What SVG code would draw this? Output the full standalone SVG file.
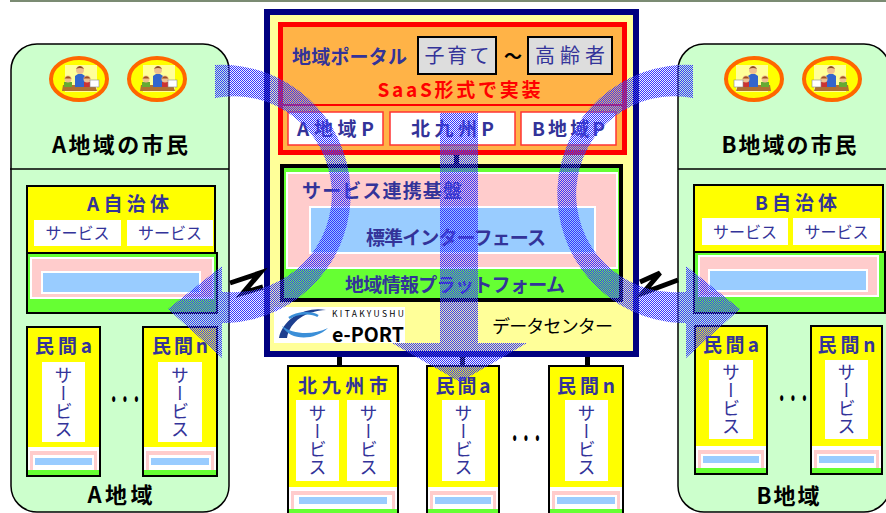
<svg xmlns="http://www.w3.org/2000/svg" width="886" height="513" viewBox="0 0 886 513">
<defs>
<style>
text{font-family:'Noto Sans CJK JP','Noto Sans',sans-serif}
.nv{fill:#333399;font-weight:bold}
.blk{fill:#000;font-weight:bold}
.dots{fill:#000;font-weight:900;font-size:21px}
.svc{fill:#333399;font-size:16px}
.vt{fill:#333399;font-size:18px;writing-mode:vertical-rl}
.ybox{fill:#ffff00}
.edge{fill:none;stroke:#000;stroke-width:2}
.wh{fill:#fff}
.pk{fill:#ffcccc;stroke:#fff;stroke-width:2}
.bl{fill:#99ccff;stroke:#fff;stroke-width:2}
.gr{fill:#66ff33}
.panel{fill:#ccffcc;stroke:#000;stroke-width:1.5}
.flow{fill:url(#dither)}
.bar{fill:#000}
.zz{fill:none;stroke:#000;stroke-width:5;stroke-linejoin:miter}
</style>
<pattern id="dither" width="2" height="2" patternUnits="userSpaceOnUse">
<rect width="2" height="2" fill="#9090ff" fill-opacity="0.12"/>
<rect width="1" height="1" fill="#3535ff"/>
<rect x="1" y="1" width="1" height="1" fill="#3535ff"/>
</pattern>
<g id="family">
<ellipse rx="28" ry="21" fill="#ffff00" stroke="#ff6600" stroke-width="4"/>
<rect x="-14" y="-14" width="32" height="27" fill="#ffff99"/>
<path d="M-16 6 L16 6 L18 12 L-17 12 Z" fill="#b07030"/>
<path d="M-4 8 L-4 -3 Q1 -8 6 -3 L6 8 Z" fill="#3366cc"/>
<circle cx="1" cy="-9" r="4" fill="#f0c090"/>
<path d="M-3 -10 Q1 -16 5 -10 Q1 -12 -3 -10 Z" fill="#8a4a20"/>
<rect x="-15" y="3" width="8" height="5" fill="#66aa33"/>
<circle cx="-11" cy="0" r="3.5" fill="#f0c090"/>
<path d="M-14.5 -0.5 Q-11 -5 -7.5 -0.5 Z" fill="#a05020"/>
<rect x="5" y="3" width="7" height="5" fill="#cc3333"/>
<circle cx="8" cy="0" r="3.5" fill="#f0c090"/>
<path d="M4.5 -0.5 Q8 -5 11.5 -0.5 Z" fill="#a05020"/>
<rect x="11" y="1" width="9" height="7" fill="#fff" stroke="#888" stroke-width="0.6"/>
</g>
</defs>

<rect x="0" y="0" width="886" height="513" fill="#fff"/>
<rect x="10" y="0" width="876" height="2" fill="#7b8b73"/>

<!-- region A panel -->
<g id="regionA">
<rect class="panel" x="11" y="44" width="218" height="468" rx="26"/>
<line x1="10" y1="169" x2="229" y2="169" stroke="#000" stroke-width="1.5"/>
<use href="#family" x="79" y="79"/>
<use href="#family" x="157" y="79"/>
<text class="blk" x="120" y="153" font-size="22" text-anchor="middle" textLength="136" lengthAdjust="spacing">A地域の市民</text>
<text class="blk" x="120" y="503" font-size="22" text-anchor="middle" textLength="65" lengthAdjust="spacing">A地域</text>
</g>

<!-- region B panel -->
<g id="regionB">
<rect class="panel" x="678" y="44" width="212" height="468" rx="26"/>
<line x1="678" y1="169" x2="886" y2="169" stroke="#000" stroke-width="1.5"/>
<use href="#family" transform="translate(754 79) scale(-1 1)"/>
<use href="#family" transform="translate(832 79) scale(-1 1)"/>
<text class="blk" x="789" y="153" font-size="22" text-anchor="middle" textLength="135" lengthAdjust="spacing">B地域の市民</text>
<text class="blk" x="788" y="504" font-size="22" text-anchor="middle" textLength="63" lengthAdjust="spacing">B地域</text>
</g>

<!-- municipality A -->
<g id="muniA">
<rect class="ybox" x="27" y="186" width="188" height="67"/>
<text class="nv" x="128" y="211" font-size="19" text-anchor="middle" textLength="82" lengthAdjust="spacing">A自治体</text>
<rect class="wh" x="34" y="220" width="87" height="26"/>
<rect class="wh" x="127" y="220" width="86" height="26"/>
<text class="svc" x="77.5" y="239" text-anchor="middle">サービス</text>
<text class="svc" x="170" y="239" text-anchor="middle">サービス</text>
<rect class="edge" x="27" y="186" width="188" height="67"/>
<rect class="gr" x="27" y="253" width="190" height="60"/>
<rect class="pk" x="31" y="258" width="182" height="40"/>
<rect class="bl" x="42" y="272" width="158" height="21"/>
<rect class="edge" x="27" y="253" width="190" height="60"/>
</g>

<!-- municipality B -->
<g id="muniB">
<rect class="ybox" x="694" y="185" width="189" height="67"/>
<text class="nv" x="796" y="210" font-size="19" text-anchor="middle" textLength="82" lengthAdjust="spacing">B自治体</text>
<rect class="wh" x="702" y="218" width="86" height="27"/>
<rect class="wh" x="793" y="218" width="87" height="27"/>
<text class="svc" x="745" y="238" text-anchor="middle">サービス</text>
<text class="svc" x="836.5" y="238" text-anchor="middle">サービス</text>
<rect class="edge" x="694" y="185" width="189" height="67"/>
<rect class="gr" x="694" y="252" width="191" height="61"/>
<rect class="pk" x="699" y="256" width="179" height="40"/>
<rect class="bl" x="709" y="270" width="158" height="21"/>
<rect class="edge" x="694" y="252" width="191" height="61"/>
</g>

<!-- private services, region A -->
<g id="privA_a">
<rect class="ybox" x="27" y="327" width="73" height="120"/>
<rect class="wh" x="28" y="447" width="71" height="23"/>
<rect fill="#ffcccc" x="30" y="451" width="67" height="19"/>
<rect class="wh" x="33" y="455" width="61" height="15"/>
<rect fill="#99ccff" x="35" y="458" width="57" height="7"/>
<rect class="gr" x="28" y="470" width="71" height="6"/>
<rect class="wh" x="42" y="362" width="43" height="80"/>
<text class="vt" x="63.5" y="402" text-anchor="middle">サービス</text>
<text class="nv" x="63.5" y="353" font-size="19" text-anchor="middle" textLength="57" lengthAdjust="spacing">民間a</text>
<rect class="edge" x="27" y="327" width="73" height="149"/>
</g>
<g id="privA_n">
<rect class="ybox" x="143" y="327" width="74" height="120"/>
<rect class="wh" x="144" y="447" width="72" height="23"/>
<rect fill="#ffcccc" x="146" y="451" width="68" height="19"/>
<rect class="wh" x="149" y="455" width="62" height="15"/>
<rect fill="#99ccff" x="151" y="458" width="58" height="7"/>
<rect class="gr" x="144" y="470" width="72" height="6"/>
<rect class="wh" x="158" y="362" width="44" height="80"/>
<text class="vt" x="180" y="402" text-anchor="middle">サービス</text>
<text class="nv" x="180" y="353" font-size="19" text-anchor="middle" textLength="56" lengthAdjust="spacing">民間n</text>
<rect class="edge" x="143" y="327" width="74" height="149"/>
</g>
<text class="dots" x="125" y="407" text-anchor="middle" textLength="34" lengthAdjust="spacingAndGlyphs">・・・</text>

<!-- private services, region B -->
<g id="privB_a">
<rect class="ybox" x="695" y="326" width="72" height="120"/>
<rect class="wh" x="696" y="446" width="70" height="22"/>
<rect fill="#ffcccc" x="698" y="450" width="66" height="18"/>
<rect class="wh" x="701" y="454" width="60" height="14"/>
<rect fill="#99ccff" x="703" y="456" width="56" height="7"/>
<rect class="gr" x="696" y="468" width="70" height="6"/>
<rect class="wh" x="709" y="360" width="44" height="79"/>
<text class="vt" x="731" y="399.5" text-anchor="middle">サービス</text>
<text class="nv" x="731" y="352" font-size="19" text-anchor="middle" textLength="56" lengthAdjust="spacing">民間a</text>
<rect class="edge" x="695" y="326" width="72" height="148"/>
</g>
<g id="privB_n">
<rect class="ybox" x="811" y="326" width="71" height="120"/>
<rect class="wh" x="812" y="446" width="69" height="22"/>
<rect fill="#ffcccc" x="814" y="450" width="65" height="18"/>
<rect class="wh" x="817" y="454" width="59" height="14"/>
<rect fill="#99ccff" x="819" y="456" width="55" height="7"/>
<rect class="gr" x="812" y="468" width="69" height="6"/>
<rect class="wh" x="825" y="360" width="43" height="79"/>
<text class="vt" x="846.5" y="399.5" text-anchor="middle">サービス</text>
<text class="nv" x="846.5" y="352" font-size="19" text-anchor="middle" textLength="58" lengthAdjust="spacing">民間n</text>
<rect class="edge" x="811" y="326" width="71" height="148"/>
</g>
<text class="dots" x="793" y="406" text-anchor="middle" textLength="34" lengthAdjust="spacingAndGlyphs">・・・</text>

<!-- data center -->
<g id="datacenter">
<rect x="267" y="12" width="369" height="342" fill="#ffff99" stroke="#000080" stroke-width="6"/>
<text x="492" y="333" font-size="18" fill="#000" textLength="121" lengthAdjust="spacing">データセンター</text>
<g id="logo">
<rect class="wh" x="274" y="307" width="131" height="36"/>
<path d="M279 338 C283 318 306 306 326 310 C306 311 290 321 287 338 Z" fill="#1d3f8f"/>
<path d="M282 326 C292 334 312 336 328 328 C314 341 290 341 282 326 Z" fill="#3b8fd8"/>
<path d="M289 318 C298 312 312 312 318 316" fill="none" stroke="#3b8fd8" stroke-width="2.5"/>
<text x="332" y="317" font-family="'Liberation Sans',sans-serif" font-size="8.5" fill="#000" textLength="72" lengthAdjust="spacing">KITAKYUSHU</text>
<text x="332" y="342" font-family="'Liberation Sans',sans-serif" font-size="20" font-weight="bold" fill="#000" textLength="72" lengthAdjust="spacingAndGlyphs">e-PORT</text>
</g>
</g>

<!-- regional portal (SaaS) -->
<g id="portal">
<rect x="280.5" y="24.5" width="344" height="128" fill="#ffb347" stroke="#ff0000" stroke-width="5"/>
<text class="nv" x="292" y="64" font-size="19" textLength="115" lengthAdjust="spacing">地域ポータル</text>
<rect x="418" y="37" width="78" height="37" fill="#dddddd" stroke="#000" stroke-width="2"/>
<text x="457" y="63" font-size="20" fill="#333399" text-anchor="middle" textLength="65" lengthAdjust="spacing">子育て</text>
<text class="blk" x="513" y="63" font-size="18" text-anchor="middle">～</text>
<rect x="528" y="37" width="84" height="37" fill="#dddddd" stroke="#000" stroke-width="2"/>
<text x="570" y="63" font-size="20" fill="#333399" text-anchor="middle" textLength="70" lengthAdjust="spacing">高齢者</text>
<text x="459" y="97" font-size="19" font-weight="bold" fill="#ff0000" text-anchor="middle" textLength="163" lengthAdjust="spacing">SaaS形式で実装</text>
<line x1="281" y1="105" x2="624" y2="105" stroke="#ff0000" stroke-width="2"/>
<rect x="288" y="112" width="95" height="33" fill="#fff" stroke="#ff3333" stroke-width="1.5"/>
<rect x="390" y="112" width="125" height="33" fill="#fff" stroke="#ff3333" stroke-width="1.5"/>
<rect x="521" y="112" width="95" height="33" fill="#fff" stroke="#ff3333" stroke-width="1.5"/>
<text class="nv" x="335.5" y="136" font-size="19" text-anchor="middle" textLength="77" lengthAdjust="spacing">A地域P</text>
<text class="nv" x="452.5" y="136" font-size="19" text-anchor="middle" textLength="83" lengthAdjust="spacing">北九州P</text>
<text class="nv" x="568.5" y="136" font-size="19" text-anchor="middle" textLength="73" lengthAdjust="spacing">B地域P</text>
</g>

<!-- regional information platform -->
<g id="platform">
<rect x="282" y="166" width="339" height="134" fill="#66ff33" stroke="#000" stroke-width="4"/>
<rect class="pk" x="287" y="173" width="330" height="95"/>
<text class="nv" x="302" y="198" font-size="19" textLength="160" lengthAdjust="spacing">サービス連携基盤</text>
<rect class="bl" x="310" y="207" width="285" height="46"/>
<text class="nv" x="456" y="245" font-size="19" text-anchor="middle" textLength="180" lengthAdjust="spacing">標準インターフェース</text>
<text class="nv" x="455" y="292" font-size="19" text-anchor="middle" textLength="220" lengthAdjust="spacing">地域情報プラットフォーム</text>
</g>

<!-- services connected below the data center -->
<g id="kitakyushu">
<rect class="ybox" x="288" y="366" width="110" height="121"/>
<rect class="wh" x="289" y="487" width="108" height="22"/>
<rect fill="#ffcccc" x="291" y="491" width="104" height="18"/>
<rect class="wh" x="294" y="495" width="98" height="14"/>
<rect fill="#99ccff" x="299" y="497" width="88" height="7"/>
<rect class="gr" x="289" y="509" width="108" height="6"/>
<rect class="wh" x="296" y="400" width="43" height="81"/>
<rect class="wh" x="347" y="400" width="43" height="81"/>
<text class="vt" x="317.5" y="440.5" text-anchor="middle">サービス</text>
<text class="vt" x="368.5" y="440.5" text-anchor="middle">サービス</text>
<text class="nv" x="343" y="393" font-size="19" text-anchor="middle" textLength="90" lengthAdjust="spacing">北九州市</text>
<rect class="edge" x="288" y="366" width="110" height="160"/>
</g>
<g id="privC_a">
<rect class="ybox" x="427" y="366" width="72" height="121"/>
<rect class="wh" x="428" y="487" width="70" height="22"/>
<rect fill="#ffcccc" x="430" y="491" width="66" height="18"/>
<rect class="wh" x="433" y="495" width="60" height="14"/>
<rect fill="#99ccff" x="435" y="497" width="56" height="7"/>
<rect class="gr" x="428" y="509" width="70" height="6"/>
<rect class="wh" x="442" y="400" width="43" height="81"/>
<text class="vt" x="463.5" y="440.5" text-anchor="middle">サービス</text>
<text class="nv" x="463" y="393" font-size="19" text-anchor="middle" textLength="55" lengthAdjust="spacing">民間a</text>
<rect class="edge" x="427" y="366" width="72" height="160"/>
</g>
<g id="privC_n">
<rect class="ybox" x="549" y="366" width="74" height="121"/>
<rect class="wh" x="550" y="487" width="72" height="22"/>
<rect fill="#ffcccc" x="552" y="491" width="68" height="18"/>
<rect class="wh" x="555" y="495" width="62" height="14"/>
<rect fill="#99ccff" x="557" y="497" width="58" height="7"/>
<rect class="gr" x="550" y="509" width="72" height="6"/>
<rect class="wh" x="565" y="400" width="43" height="81"/>
<text class="vt" x="586.5" y="440.5" text-anchor="middle">サービス</text>
<text class="nv" x="586" y="393" font-size="19" text-anchor="middle" textLength="58" lengthAdjust="spacing">民間n</text>
<rect class="edge" x="549" y="366" width="74" height="160"/>
</g>
<text class="dots" x="526" y="446" text-anchor="middle" textLength="34" lengthAdjust="spacingAndGlyphs">・・・</text>

<!-- connectors -->
<g id="connectors">
<rect class="bar" x="454" y="155" width="5" height="11"/>
<rect class="bar" x="337" y="357" width="5" height="10"/>
<rect class="bar" x="460" y="357" width="5" height="10"/>
<rect class="bar" x="585" y="357" width="5" height="10"/>
<polyline class="zz" points="230,283 260,273 243,293 263,287"/>
<polyline class="zz" points="640,282 660,273 643,293 678,280"/>
</g>

<!-- service flow arrows -->
<g id="flows">
<path class="flow" d="M215 65 A129 129 0 1 1 228 323 L222 323 L222 358 L168 309 L222 266 L222 292 L228 292 A98 98 0 1 0 215 98 Z"/>
<path class="flow" transform="translate(908 0) scale(-1 1)" d="M215 65 A129 129 0 1 1 228 323 L222 323 L222 358 L168 309 L222 266 L222 292 L228 292 A98 98 0 1 0 215 98 Z"/>
<path class="flow" d="M440 113 H478 V343 H527 L460 382 L392 343 H440 Z"/>
</g>
</svg>
